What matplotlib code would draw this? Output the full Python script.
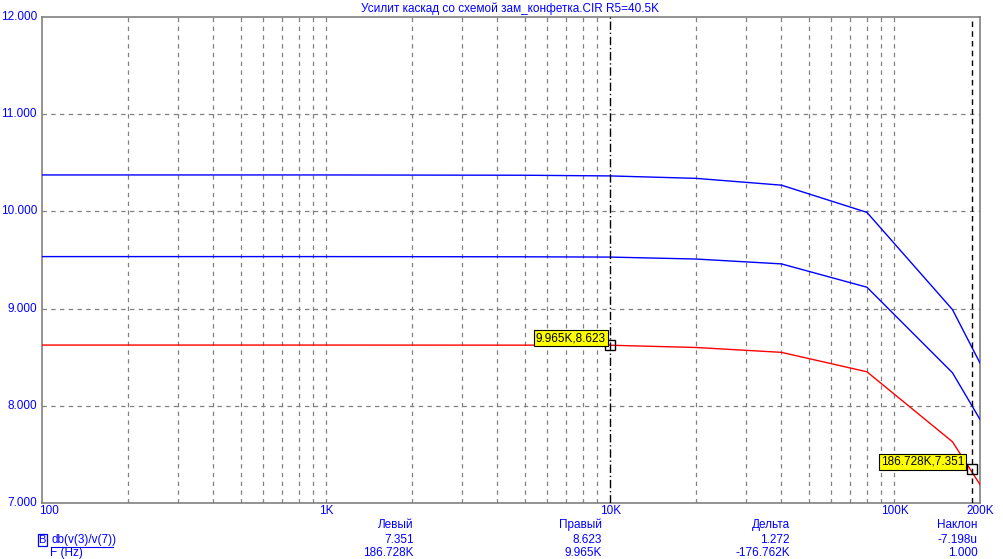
import matplotlib
matplotlib.use("Agg")
import matplotlib.pyplot as plt
import numpy as np

plt.rcParams['font.family'] = ['Liberation Sans', 'DejaVu Sans']

freq = [100, 1000, 5000, 10000, 20000, 40000, 80000, 160000, 200000]
top_db = [10.375, 10.375, 10.372, 10.365, 10.34, 10.27, 9.99, 8.99, 8.44]
mid_db = [9.535, 9.535, 9.533, 9.53, 9.51, 9.46, 9.22, 8.34, 7.86]
red_db = [8.625, 8.625, 8.624, 8.623, 8.60, 8.55, 8.35, 7.63, 7.19]

cursor_left = (186728, 7.351)
cursor_right = (9965, 8.623)

yticks = [7, 8, 9, 10, 11, 12]
ytick_labels = ["7.000", "8.000", "9.000", "10.000", "11.000", "12.000"]
xticks = [100, 1000, 10000, 100000, 200000]
xtick_labels = ["100", "1K", "10K", "100K", "200K"]

title = "Усилит каскад со схемой зам_конфетка.CIR R5=40.5K"
col_heads = ["Левый", "Правый", "Дельта", "Наклон"]
row1 = ["7.351", "8.623", "1.272", "-7.198u"]
row2 = ["186.728K", "9.965K", "-176.762K", "1.000"]

W, H = 1004, 559
fig = plt.figure(figsize=(W / 100, H / 100), dpi=100)
L, R, T, B = 42, 980, 17, 503
ax = fig.add_axes([L / W, 1 - B / H, (R - L) / W, (B - T) / H])
ax.set_xscale('log')
ax.set_xlim(100, 200000)
ax.set_ylim(7, 12)

grid_kw = dict(color='#808080', lw=0.9, ls=(0, (3.5, 3.5)), zorder=1)
for d in [100, 1000, 10000, 100000]:
    for m in range(2, 10):
        f = d * m
        if f < 200000:
            ax.axvline(f, **grid_kw)
ax.axvline(1000, **grid_kw)
ax.axvline(100000, **grid_kw)
for y in [8, 9, 10, 11]:
    ax.axhline(y, **grid_kw)

ax.plot(freq, top_db, color='#0000ff', lw=1.0, zorder=3)
ax.plot(freq, mid_db, color='#0000ff', lw=1.0, zorder=3)
ax.plot(freq, red_db, color='#ff0000', lw=1.0, zorder=3)

# cursors
ax.axvline(cursor_right[0], color='black', lw=1.0, ls=(0, (6, 2, 1, 2)), zorder=4)
ax.axvline(cursor_left[0], color='black', lw=1.0, ls=(0, (4, 3)), zorder=4)
for cx, cy in [cursor_right, cursor_left]:
    ax.plot([cx], [cy], marker='s', ms=7, mfc='none', mec='black', mew=1.0, zorder=6)

ax.annotate("9.965K,8.623", xy=cursor_right, xytext=(-4, 1), textcoords='offset pixels',
            ha='right', va='bottom', fontsize=8.5, color='black', zorder=7,
            bbox=dict(boxstyle='square,pad=0.15', fc='#ffff00', ec='black', lw=0.8))
ax.annotate("186.728K,7.351", xy=cursor_left, xytext=(-7, 1), textcoords='offset pixels',
            ha='right', va='bottom', fontsize=8.5, color='black', zorder=7,
            bbox=dict(boxstyle='square,pad=0.15', fc='#ffff00', ec='black', lw=0.8))

for s in ax.spines.values():
    s.set_color('#808080')
    s.set_linewidth(1.2)

ax.set_xticks([])
ax.set_yticks([])
ax.xaxis.set_minor_locator(matplotlib.ticker.NullLocator())

blue = '#0000ff'
fs = 8.5
for y, lab in zip(yticks, ytick_labels):
    ax.annotate(lab, xy=(100, y), xytext=(-5, 0), textcoords='offset pixels',
                ha='right', va='center', fontsize=fs, color=blue, annotation_clip=False)
for x, lab in zip(xticks, xtick_labels):
    ha = 'left' if x == 100 else 'center'
    ax.annotate(lab, xy=(x, 7), xytext=(-3 if x == 100 else 0, -8), textcoords='offset pixels',
                ha=ha, va='center', fontsize=fs, color=blue, annotation_clip=False)

fig.text(510 / W, 1 - 9 / H, title, ha='center', va='center', fontsize=fs, color=blue)

col_x = [414, 602, 790, 978]
for cx, h, r1, r2 in zip(col_x, col_heads, row1, row2):
    fig.text(cx / W, 1 - 525 / H, h, ha='right', va='center', fontsize=fs, color=blue)
    fig.text(cx / W, 1 - 540 / H, r1, ha='right', va='center', fontsize=fs, color=blue)
    fig.text(cx / W, 1 - 553 / H, r2, ha='right', va='center', fontsize=fs, color=blue)

fig.text(38.5 / W, 1 - 540 / H, "B", ha='left', va='center', fontsize=fs - 0.5, color=blue,
         bbox=dict(boxstyle='square,pad=0.08', fc='none', ec=blue, lw=0.9))
fig.text(51 / W, 1 - 540 / H, "db(v(3)/v(7))", ha='left', va='center', fontsize=fs, color=blue)
fig.add_artist(matplotlib.lines.Line2D([51 / W, 113 / W], [1 - 547 / H, 1 - 547 / H],
                                       color=blue, lw=0.8, transform=fig.transFigure))
fig.text(50 / W, 1 - 553 / H, "F (Hz)", ha='left', va='center', fontsize=fs, color=blue)

fig.savefig("out.png", dpi=100)
